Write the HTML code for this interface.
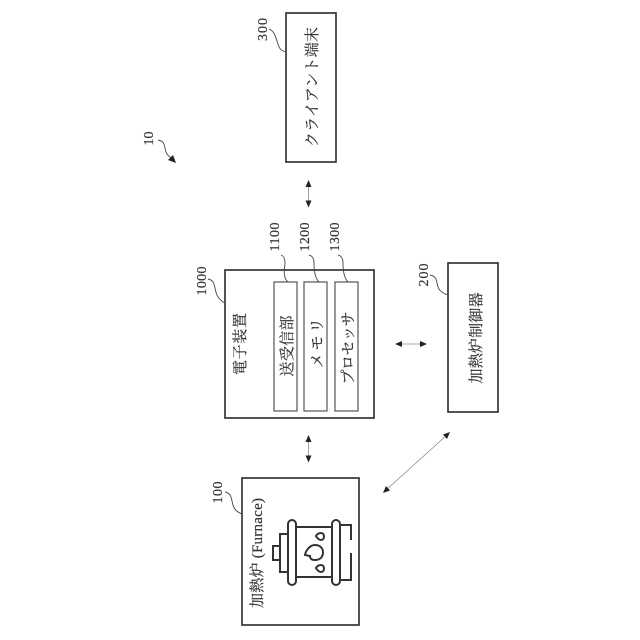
<!DOCTYPE html>
<html><head><meta charset="utf-8"><style>
html,body{margin:0;padding:0;background:#fff}
svg{display:block}
text{font-family:"Liberation Serif","Noto Serif CJK SC","Noto Serif CJK JP",serif;fill:#333;stroke:#333;stroke-width:.2}
.j{font-size:15px;text-anchor:middle}
.n{font-size:14px;text-anchor:middle}
.b{fill:#fff;stroke:#2a2a2a;stroke-width:1.6}
.i{fill:#fff;stroke:#555;stroke-width:1.2}
.c{fill:none;stroke:#444;stroke-width:.9}
.a{stroke:#888;stroke-width:.8;fill:none}
.h{fill:#222;stroke:none}
.f{fill:none;stroke:#333;stroke-width:2}
</style></head><body>
<svg width="640" height="640" viewBox="0 0 640 640" xmlns="http://www.w3.org/2000/svg">
<rect class="b" x="286" y="13" width="50" height="149"/>
<rect class="b" x="225" y="270" width="149" height="148"/>
<rect class="i" x="274" y="282" width="23" height="129"/>
<rect class="i" x="304" y="282" width="23" height="129"/>
<rect class="i" x="335" y="282" width="23" height="129"/>
<rect class="b" x="448" y="263" width="50" height="149"/>
<rect class="b" x="242" y="478" width="117" height="147"/>

<text class="j" transform="translate(317,87) rotate(-90)" textLength="120" lengthAdjust="spacing">クライアント端末</text>
<text class="j" transform="translate(245,344) rotate(-90)" textLength="62" lengthAdjust="spacing">電子装置</text>
<text class="j" transform="translate(292,346) rotate(-90)" textLength="61" lengthAdjust="spacing">送受信部</text>
<text class="j" transform="translate(322,343) rotate(-90)" textLength="50" lengthAdjust="spacing">メモリ</text>
<text class="j" transform="translate(353,348) rotate(-90)" textLength="73" lengthAdjust="spacing">プロセッサ</text>
<text class="j" transform="translate(481,338) rotate(-90)" textLength="91" lengthAdjust="spacing">加熱炉制御器</text>
<text class="j" transform="translate(262,553) rotate(-90)" textLength="110" lengthAdjust="spacing">加熱炉 (Furnace)</text>

<text class="n" transform="translate(267,29.500) rotate(-90)" textLength="23" lengthAdjust="spacing">300</text>
<text class="n" transform="translate(153,138.500) rotate(-90)" textLength="14" lengthAdjust="spacing">10</text>
<text class="n" transform="translate(206,281) rotate(-90)" textLength="29" lengthAdjust="spacing">1000</text>
<text class="n" transform="translate(279,237) rotate(-90)" textLength="29" lengthAdjust="spacing">1100</text>
<text class="n" transform="translate(309,237) rotate(-90)" textLength="29" lengthAdjust="spacing">1200</text>
<text class="n" transform="translate(339,237) rotate(-90)" textLength="29" lengthAdjust="spacing">1300</text>
<text class="n" transform="translate(428,275) rotate(-90)" textLength="23" lengthAdjust="spacing">200</text>
<text class="n" transform="translate(222,492.500) rotate(-90)" textLength="22" lengthAdjust="spacing">100</text>

<path class="c" d="M269 29c5 2 6 6 8 12s2 9 9 11"/>
<path class="c" d="M158 140c5 1 6 3 7 8s2 7 6 10"/>
<path class="h" d="M176 163l-8-3 5-5z"/>
<path class="c" d="M208 279c5 1 6 4 7 9s2 11 10 15"/>
<path class="c" d="M281 255c3 1 4 4 4 8s-3 14 3 19"/>
<path class="c" d="M309 255c4 1 5 4 5 8s0 14 5 19"/>
<path class="c" d="M338 255c4 1 5 4 5 8s0 14 5 19"/>
<path class="c" d="M430 275c5 1 6 3 7 8s2 9 11 12"/>
<path class="c" d="M225 492c5 1 6 4 7 9s2 10 10 13"/>

<line class="a" x1="308.500" y1="184" x2="308.500" y2="204"/>
<path class="h" d="M308.500 180l3 7h-6zM308.500 207.500l3-7h-6z"/>
<line class="a" x1="308.500" y1="439" x2="308.500" y2="459"/>
<path class="h" d="M308.500 435l3 7h-6zM308.500 462.500l3-7h-6z"/>
<line class="a" x1="399" y1="344" x2="423" y2="344"/>
<path class="h" d="M395 344l7-3v6zM427 344l-7-3v6z"/>
<line class="a" x1="386" y1="490" x2="447" y2="435"/>
<path class="h" d="M383 493l3-7 4 4.500zM450 432l-3 7-4-4.500z"/>

<rect class="f" x="273" y="546" width="7" height="14"/>
<path class="f" d="M288 534h-8v38h8"/>
<rect class="f" x="288" y="520" width="8" height="65" rx="4"/>
<path class="f" d="M296 527h36M296 577h36"/>
<rect class="f" x="332" y="520" width="8" height="65" rx="4"/>
<path class="f" d="M340 525h11v15M351 553v27h-11"/>
<path class="f" d="M305 555c1-5 5-10 10-10 5 0 8 3 8 7.500s-3 7.500-8 7.500c-3 0-5-1-5-4 -2 0-3-1-5-1z"/>
<path class="f" d="M316 536c1-2 3-3 5-3 2 0 3 1.500 3 3.500s-1 3.500-3 3.500c-2 0-4-2-5-4z"/>
<path class="f" d="M316 568c1-2 3-3 5-3 2 0 3 1.500 3 3.500s-1 3.500-3 3.500c-2 0-4-2-5-4z"/>
</svg>
</body></html>
